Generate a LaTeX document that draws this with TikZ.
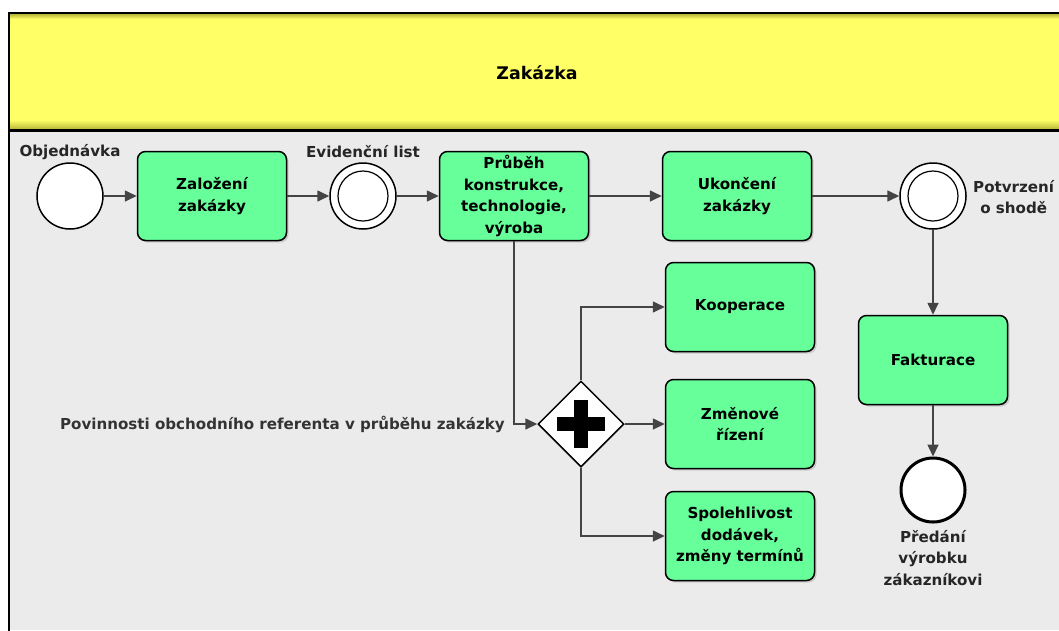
\documentclass[tikz,border=0pt]{standalone}
\usepackage{fontspec}
\setmainfont{DejaVu Sans}
\usetikzlibrary{arrows.meta,shapes.geometric,shadows}

\definecolor{taskgreen}{HTML}{66FF99}
\definecolor{headyellow}{HTML}{FFFF66}
\definecolor{headedge}{HTML}{B8B83A}
\definecolor{bodygrey}{HTML}{EBEBEB}
\definecolor{flowgrey}{HTML}{444444}
\definecolor{labelgrey}{HTML}{333333}

\newcommand\lblfont{\fontsize{15.1}{21.7}\selectfont\bfseries}
\newcommand\headfont{\fontsize{17.4}{20}\selectfont\bfseries}

\begin{document}
\begin{tikzpicture}[x=1pt,y=-1pt,
  flow/.style={draw=flowgrey, line width=1.6pt, -{Triangle[length=12pt,width=11pt]}},
  task/.style={rectangle, rounded corners=8pt, draw=black, line width=1.5pt,
    fill=taskgreen, minimum width=149pt, minimum height=89pt, align=center,
    font=\lblfont, text=black,
    drop shadow={shadow xshift=2pt, shadow yshift=-2pt, opacity=0.3}},
  event/.style={circle, draw=black, line width=1.5pt, fill=white, minimum size=66pt, inner sep=0pt},
  endevent/.style={event, line width=3pt, minimum size=64pt},
  gateway/.style={diamond, aspect=1, draw=black, line width=1.5pt, fill=white, minimum size=86pt, inner sep=0pt},
  lbl/.style={font=\lblfont, text=labelgrey, align=center, inner sep=0pt}
]
\useasboundingbox (0,0) rectangle (1059,630);
\clip (0,0) rectangle (1059,630);

% pool frame: header band and body
\fill[white] (0,0) rectangle (1059,630);
\fill[bodygrey] (9,130) rectangle (1059,630);
\fill[headyellow] (9,13) rectangle (1059,130);
\shade[top color=headyellow, bottom color=headedge] (9,120) rectangle (1059,129);
\shade[top color=headedge, bottom color=headyellow] (9,14) rectangle (1059,19);
\draw[line width=2pt] (1070,13) -- (9,13) -- (9,640);
\draw[line width=3pt] (9,130) -- (1070,130);
\node[font=\headfont, text=black] (pool) at (537,73) {Zakázka};

% main flow
\node[event] (start) at (70,196) {};
\node[task] (zal) at (212,196) {Založení\\zakázky};
\node[event] (evid) at (363,196) {};
\draw[line width=1.2pt] (evid.center) circle[radius=25pt];
\node[task] (prub) at (514,196) {Průběh\\konstrukce,\\technologie,\\výroba};
\node[task] (ukon) at (737,196) {Ukončení\\zakázky};
\node[event] (potv) at (933,196) {};
\draw[line width=1.2pt] (potv.center) circle[radius=25pt];
\node[task] (fakt) at (933,360) {Fakturace};
\node[endevent] (pred) at (933,490) {};

% parallel branch
\node[gateway] (gw) at (581,424) {};
\fill[black] ([xshift=-24pt,yshift=-7pt]gw.center) rectangle ([xshift=24pt,yshift=7pt]gw.center);
\fill[black] ([xshift=-7pt,yshift=-24pt]gw.center) rectangle ([xshift=7pt,yshift=24pt]gw.center);
\node[task] (koop) at (740,307) {Kooperace};
\node[task] (zmen) at (740,424) {Změnové\\řízení};
\node[task] (spol) at (740,536) {Spolehlivost\\dodávek,\\změny termínů};

% labels
\node[lbl, text=black!85] (lstart) at (70,152) {Objednávka};
\node[lbl, text=black!85] (levid) at (363,152) {Evidenční list};
\node[lbl, text=black!85, anchor=west] (lpotv) at (973,197) {Potvrzení\\o shodě};
\node[lbl, text=black!85, anchor=north] (lpred) at (933,530) {Předání\\výrobku\\zákazníkovi};
\node[lbl, anchor=east] (lpov) at (505,424) {Povinnosti obchodního referenta v průběhu zakázky};

% sequence flows
\draw[flow] (start) -- (zal);
\draw[flow] (zal) -- (evid);
\draw[flow] (evid) -- (prub);
\draw[flow] (prub) -- (ukon);
\draw[flow] (ukon) -- (potv);
\draw[flow] (potv) -- (fakt);
\draw[flow] (fakt) -- (pred);
\draw[flow] (prub.south) |- (gw.west);
\draw[flow] (gw.north) |- (koop.west);
\draw[flow] (gw.east) -- (zmen.west);
\draw[flow] (gw.south) |- (spol.west);
\end{tikzpicture}
\end{document}
